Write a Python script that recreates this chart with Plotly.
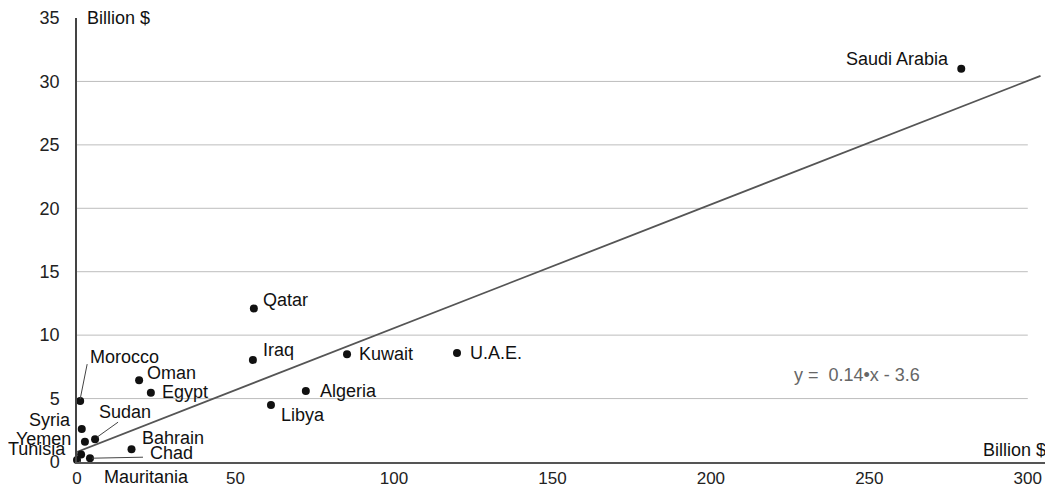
import plotly.graph_objects as go

countries = ["Saudi Arabia", "Qatar", "Iraq", "Kuwait", "U.A.E.", "Algeria", "Libya",
             "Oman", "Egypt", "Morocco", "Syria", "Sudan", "Yemen", "Bahrain",
             "Tunisia", "Chad", "Mauritania"]
x_vals = [279.0, 55.8, 55.5, 85.2, 119.9, 72.2, 61.2,
          19.6, 23.3, 1.0, 1.5, 5.7, 2.5, 17.2,
          1.3, 4.1, 0.0]
y_vals = [31.0, 12.1, 8.05, 8.5, 8.6, 5.6, 4.5,
          6.45, 5.45, 4.8, 2.6, 1.8, 1.6, 1.0,
          0.6, 0.3, 0.15]

x_ticks = [0, 50, 100, 150, 200, 250, 300]
y_ticks = [0, 5, 10, 15, 20, 25, 30, 35]

trend_slope = 0.0975
trend_intercept = 0.8
trend_x = [0, 304]
equation_text = "y =  0.14•x - 3.6"

# label placement: (xanchor, xshift px, yshift px)
label_pos = {
    "Saudi Arabia": ("right", -10, 10),
    "Qatar": ("left", 7, 9),
    "Iraq": ("left", 8, 10),
    "Kuwait": ("left", 10, 0),
    "U.A.E.": ("left", 11, 0),
    "Algeria": ("left", 12, 0),
    "Libya": ("left", 8, -10),
    "Oman": ("left", 6, 7),
    "Egypt": ("left", 9, 1),
    "Morocco": ("left", 8, 44),
    "Syria": ("right", -9, 9),
    "Sudan": ("left", 2, 27),
    "Yemen": ("right", -12, 3),
    "Bahrain": ("left", 8, 11),
    "Tunisia": ("right", -13, 5),
    "Chad": ("left", 58, 5),
    "Mauritania": ("left", 25, -17),
}
# leader lines in pixel offsets (x0, y0, x1, y1), y up
leaders = {
    "Morocco": (0, 2, 7, 37),
    "Sudan": (2, 2, 23, 17),
    "Chad": (2, 0, 53, 1),
    "Mauritania": (2, -1, 22, -14),
}

FONT = "Liberation Sans, Arial, sans-serif"

fig = go.Figure()

fig.add_trace(go.Scatter(
    x=trend_x, y=[trend_intercept + trend_slope * v for v in trend_x],
    mode="lines", line=dict(color="#555555", width=1.8),
    hoverinfo="skip", showlegend=False, cliponaxis=False))

fig.add_trace(go.Scatter(
    x=x_vals, y=y_vals, mode="markers", text=countries,
    marker=dict(color="#111111", size=8),
    showlegend=False, cliponaxis=False))

shapes = []
for gy in y_ticks[1:-1]:
    shapes.append(dict(type="line", xref="x", yref="y", x0=0, x1=x_ticks[-1],
                       y0=gy, y1=gy, line=dict(color="#bdbdbd", width=1),
                       layer="below"))
for name, (a, b, c, d) in leaders.items():
    i = countries.index(name)
    shapes.append(dict(type="line", xref="x", yref="y",
                       xsizemode="pixel", ysizemode="pixel",
                       xanchor=x_vals[i], yanchor=y_vals[i],
                       x0=a, y0=b, x1=c, y1=d,
                       line=dict(color="#444444", width=1)))

annotations = []
for i, name in enumerate(countries):
    xa, xs, ys = label_pos[name]
    annotations.append(dict(x=x_vals[i], y=y_vals[i], xref="x", yref="y",
                            text=name, showarrow=False, xanchor=xa,
                            yanchor="middle", xshift=xs, yshift=ys,
                            font=dict(family=FONT, size=18, color="#111111")))
annotations.append(dict(x=0, y=35, xref="x", yref="y", text="Billion $",
                        showarrow=False, xanchor="left", yanchor="middle",
                        xshift=8, font=dict(family=FONT, size=18, color="#111111")))
annotations.append(dict(x=1, y=0, xref="paper", yref="y", text="Billion $",
                        showarrow=False, xanchor="right", yanchor="middle",
                        xshift=-2, yshift=12,
                        font=dict(family=FONT, size=18, color="#111111")))
annotations.append(dict(x=225.6, y=6.86, xref="x", yref="y", text=equation_text,
                        showarrow=False, xanchor="left", yanchor="middle",
                        font=dict(family=FONT, size=18, color="#666666")))

# page body has an 8px default margin, so the figure is sized/offset to fit
fig.update_layout(
    width=1045, height=477,
    margin=dict(l=69, r=3, t=10, b=23),
    paper_bgcolor="white", plot_bgcolor="white",
    font=dict(family=FONT, size=17, color="#222222"),
    shapes=shapes, annotations=annotations,
    xaxis=dict(range=[0, 307], tickvals=x_ticks, showgrid=False, zeroline=False,
               showline=True, linecolor="#555555", linewidth=2, ticks="",
               automargin=False, ticklabelstandoff=0,
               tickfont=dict(size=17, color="#222222")),
    yaxis=dict(range=[0, 35], tickvals=y_ticks, showgrid=False, zeroline=False,
               showline=True, linecolor="#444444", linewidth=1.5, ticks="",
               automargin=False, ticklabelstandoff=12,
               tickfont=dict(size=18, color="#222222")),
)

fig.write_html("out.html")
